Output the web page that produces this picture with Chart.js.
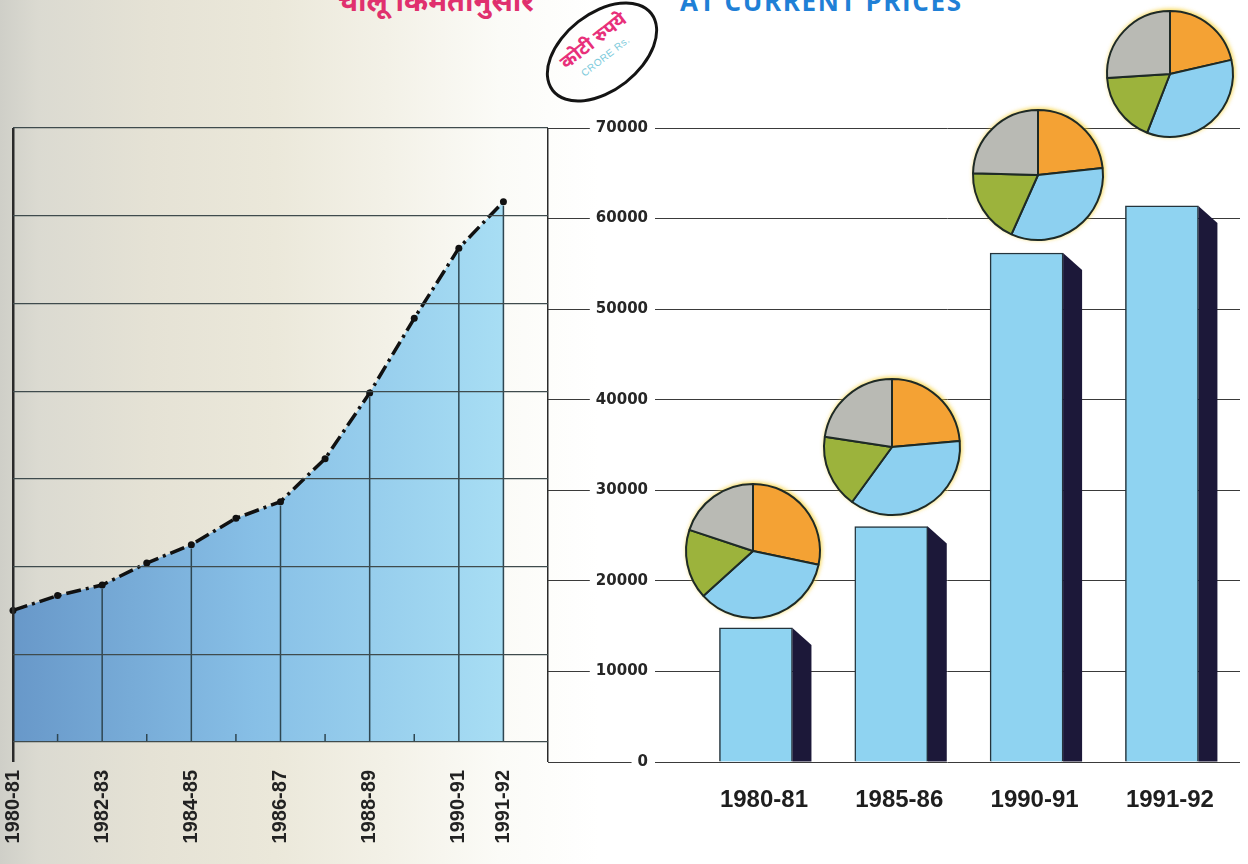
<!DOCTYPE html>
<html>
<head>
<meta charset="utf-8">
<script src="https://cdn.jsdelivr.net/npm/chart.js@4.4.1/dist/chart.umd.min.js"></script>
<style>
  body { margin:0; width:1248px; height:864px; overflow:hidden; position:relative;
    background: linear-gradient(90deg, #cfcfc8 0%, #dbdad1 3%, #e5e2d5 12%, #ebe8da 22%, #f3f1e7 31%, #fbfbf7 40%, #ffffff 48%); }
  canvas { position:absolute; }
  #lineChart { left:0; top:100px; }
  #barChart { left:548px; top:100px; }
  .pie { filter: drop-shadow(1px -1px 2px rgba(245,205,40,0.85)); }
  #pie1 { left:682px; top:480px; }
  #pie2 { left:820px; top:375px; }
  #pie3 { left:969px; top:106px; }
  #pie4 { left:1103px; top:7px; }
  .title { position:absolute; white-space:nowrap; line-height:1; }
  #mr { left:338px; top:-20px; font: bold 29px "Noto Sans", sans-serif; color:#e0306e; }
  #en { left:680px; top:-17px; font: bold 26px "Open Sans", sans-serif; color:#1f80d6; letter-spacing:1.6px; }
  #stamp { position:absolute; left:538px; top:12px; width:128px; height:80px; border:3px solid #141414;
    border-radius:50%; transform: rotate(-38deg); text-align:center; box-sizing:border-box; }
  #stamp .a { display:block; margin-top:13px; font: bold 19px "Noto Sans", sans-serif; color:#e8307a; line-height:1; }
  #stamp .b { display:block; margin-top:5px; font: 10px "Liberation Sans", sans-serif; color:#7ccadb; letter-spacing:0.5px; }
</style>
</head>
<body>
<div class="title" id="mr">चालू किमतीनुसार</div>
<div class="title" id="en">AT CURRENT PRICES</div>
<div id="stamp"><span class="a">कोटी रुपये</span><span class="b">CRORE Rs.</span></div>
<canvas id="lineChart" width="552" height="764"></canvas>
<canvas id="barChart" width="700" height="764"></canvas>
<canvas id="pie1" class="pie" width="142" height="142"></canvas>
<canvas id="pie2" class="pie" width="144" height="144"></canvas>
<canvas id="pie3" class="pie" width="138" height="138"></canvas>
<canvas id="pie4" class="pie" width="134" height="134"></canvas>
<script>
// yearly series (left chart), crore Rs
var lineYears = ['1980-81','1981-82','1982-83','1983-84','1984-85','1985-86',
                 '1986-87','1987-88','1988-89','1989-90','1990-91','1991-92'];
var lineValues = [15000, 16700, 17900, 20400, 22500, 25500, 27400, 32300, 39800, 48300, 56300, 61600];
var labelledYears = [0, 2, 4, 6, 8, 10, 11];
var minorYears = [1, 3, 5, 7, 9];

// bars (right chart)
var barYears = ['1980-81', '1985-86', '1990-91', '1991-92'];
var barValues = [14800, 26000, 56200, 61400];

// axis
var yMax = 70000;
var yStep = 10000;

// pie shares, clockwise from the top: orange, blue, green, grey
var pieColors = ['#f4a234', '#8dd0f0', '#9cb33c', '#b9bab4'];
var pie1980 = [28.3, 35.0, 16.8, 19.9];
var pie1985 = [23.6, 36.4, 17.4, 22.6];
var pie1990 = [23.3, 33.4, 18.7, 24.6];
var pie1991 = [21.4, 34.5, 18.1, 26.0];
var pieRadius = [67, 68, 65, 63];

Chart.defaults.font.family = 'Liberation Sans';
Chart.defaults.animation = false;

function noPad(s) { s.paddingLeft = 0; s.paddingRight = 0; s.paddingTop = 0; s.paddingBottom = 0; }

//drop lines under the curve + small year marks//
const dropLines = {
  id: 'dropLines',
  afterDatasetsDraw(chart) {
    const ctx = chart.ctx;
    const pts = chart.getDatasetMeta(0).data;
    const bottom = chart.chartArea.bottom;
    ctx.save();
    ctx.strokeStyle = '#2e4651';
    ctx.lineWidth = 1.5;
    labelledYears.forEach(function(i) {
      if (i === 0) return;
      ctx.beginPath();
      ctx.moveTo(pts[i].x, pts[i].y + 4);
      ctx.lineTo(pts[i].x, bottom);
      ctx.stroke();
    });
    minorYears.forEach(function(i) {
      ctx.beginPath();
      ctx.moveTo(pts[i].x, bottom - 8);
      ctx.lineTo(pts[i].x, bottom);
      ctx.stroke();
    });
    ctx.restore();
  }
};

const lineChart = new Chart('lineChart', {
  type: 'line',
  data: {
    datasets: [{
      data: lineValues.map(function(v, i) { return {x: i, y: v}; }),
      borderColor: '#111',
      borderWidth: 3.5,
      borderDash: [15, 5, 3, 5],
      pointRadius: 3.5,
      pointBackgroundColor: '#111',
      pointBorderWidth: 0,
      tension: 0,
      clip: 6,
      fill: 'origin',
      backgroundColor: function(c) {
        const a = c.chart.chartArea;
        if (!a) return '#86bde6';
        const g = c.chart.ctx.createLinearGradient(a.left, 0, a.right, 0);
        g.addColorStop(0, '#6898c9');
        g.addColorStop(0.45, '#87bfe6');
        g.addColorStop(0.92, '#a8def4');
        return g;
      }
    }]
  },
  options: {
    responsive: false,
    layout: { padding: { top: 28, right: 3, left: 0, bottom: 0 } },
    plugins: { legend: { display: false }, tooltip: { enabled: false } },
    scales: {
      x: {
        type: 'linear', min: 0, max: 12, offset: false,
        afterFit: function(s) { s.height = 122; noPad(s); },
        border: { display: false },
        grid: {
          color: function(c) {
            if (!c.tick) return 'rgba(0,0,0,0)';
            return (c.tick.value === 0 || c.tick.value === 12) ? '#2a2a2a' : 'rgba(0,0,0,0)';
          },
          lineWidth: function(c) { return c.tick && c.tick.value === 0 ? 2.5 : 1.5; },
          drawTicks: true, tickLength: 20, z: 1
        },
        ticks: {
          stepSize: 1, autoSkip: false, minRotation: 90, maxRotation: 90, padding: 8,
          color: '#222', font: { size: 20, weight: 'bold' },
          callback: function(v) { return labelledYears.indexOf(v) >= 0 ? lineYears[v] : ''; }
        }
      },
      y: {
        min: 0, max: yMax,
        afterFit: function(s) { s.width = 13; noPad(s); },
        border: { display: false },
        grid: { color: '#3f4b4d', lineWidth: 1.2, drawTicks: false, z: 1 },
        ticks: { display: false, stepSize: yStep }
      }
    }
  },
  plugins: [dropLines]
});

//dark side face of each bar//
const sideFace = {
  id: 'sideFace',
  afterDatasetsDraw(chart) {
    const ctx = chart.ctx;
    chart.getDatasetMeta(0).data.forEach(function(bar) {
      const r = bar.x + bar.width / 2;
      ctx.save();
      ctx.fillStyle = '#1c1839';
      ctx.beginPath();
      ctx.moveTo(r, bar.y);
      ctx.lineTo(r + 19, bar.y + 17);
      ctx.lineTo(r + 19, bar.base);
      ctx.lineTo(r, bar.base);
      ctx.closePath();
      ctx.fill();
      ctx.restore();
    });
  }
};

const barChart = new Chart('barChart', {
  type: 'bar',
  data: {
    datasets: [{
      data: barValues.map(function(v, i) { return {x: i, y: v}; }),
      backgroundColor: '#8fd3f1',
      borderColor: '#24343c',
      borderWidth: 1.5,
      barThickness: 73
    }]
  },
  options: {
    responsive: false,
    layout: { padding: { top: 28, right: 8, left: 0, bottom: 0 } },
    plugins: { legend: { display: false }, tooltip: { enabled: false } },
    scales: {
      x: {
        type: 'linear', min: -0.746, max: 3.577, offset: false,
        afterFit: function(s) { s.height = 102; noPad(s); },
        border: { display: false },
        grid: { display: false, drawTicks: false, offset: false },
        ticks: {
          stepSize: 1, includeBounds: false, autoSkip: false, maxRotation: 0,
          labelOffset: 8, padding: 24, color: '#1e1e1e',
          font: { size: 24, weight: 'bold' },
          callback: function(v) { return barYears[v] || ''; }
        }
      },
      y: {
        min: 0, max: yMax,
        afterFit: function(s) { s.width = 107; noPad(s); },
        border: { display: false },
        grid: { color: '#3a3a3a', lineWidth: 1, drawTicks: true, tickLength: 107 },
        ticks: {
          stepSize: yStep, padding: -100, color: '#262626',
          font: { family: 'DejaVu Sans', size: 15, weight: 'bold' },
          showLabelBackdrop: true, backdropColor: '#ffffff',
          backdropPadding: { top: 1, bottom: 1, left: 6, right: 7 },
          callback: function(v) { return String(v); }
        }
      }
    }
  },
  plugins: [sideFace]
});

function makePie(id, values, r) {
  return new Chart(id, {
    type: 'pie',
    data: {
      datasets: [{
        data: values,
        backgroundColor: pieColors,
        borderColor: '#1e2a26',
        borderWidth: 2,
        radius: r
      }]
    },
    options: {
      responsive: false,
      layout: { padding: 0 },
      plugins: { legend: { display: false }, tooltip: { enabled: false } }
    }
  });
}
makePie('pie1', pie1980, pieRadius[0]);
makePie('pie2', pie1985, pieRadius[1]);
makePie('pie3', pie1990, pieRadius[2]);
makePie('pie4', pie1991, pieRadius[3]);
</script>
</body>
</html>
